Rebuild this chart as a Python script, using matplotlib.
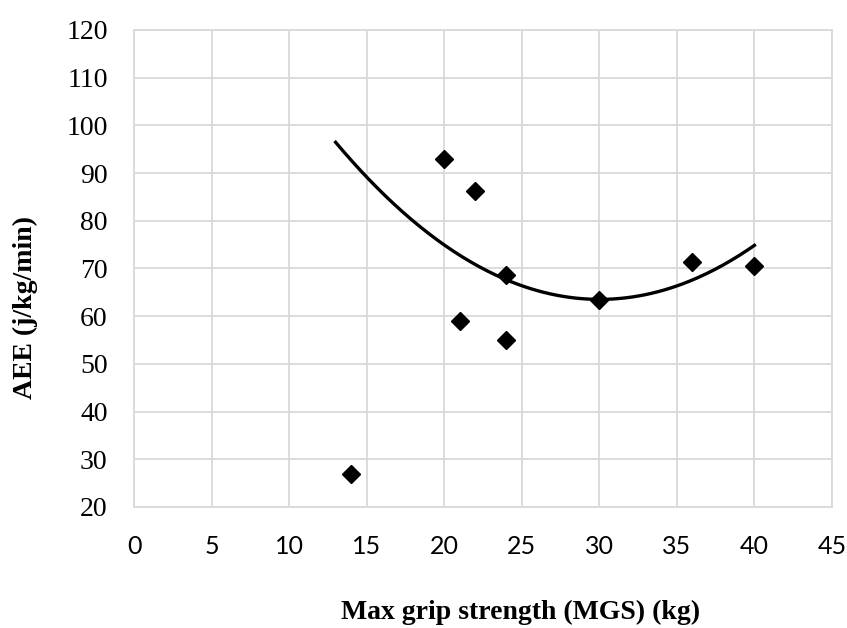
import matplotlib
matplotlib.use("Agg")
import matplotlib.pyplot as plt
import numpy as np

# grip strength (kg) vs AEE (j/kg/min)
mgs = [14, 20, 21, 22, 24, 24, 30, 36, 40]
aee = [27.0, 93.0, 58.9, 86.2, 68.6, 55.1, 63.5, 71.4, 70.6]

trend_x = [13, 15, 20, 30, 35, 40]
trend_y = [96.5, 89.6, 74.2, 63.2, 67.6, 74.2]

x_ticks = list(range(0, 50, 5))
y_ticks = list(range(20, 130, 10))

GRID = "#d9d9d9"
SERIF = "Liberation Serif"

fig = plt.figure(figsize=(8.47, 6.28), dpi=100)
ax = fig.add_axes([134 / 847, 1 - 507 / 628, (832 - 134) / 847, (507 - 30) / 628])

# 2nd order trendline
coef = np.polyfit(trend_x, trend_y, 2)
xs = np.linspace(min(trend_x), max(trend_x), 200)
ax.plot(xs, np.polyval(coef, xs), color="black", lw=2.4, zorder=3)

ax.plot(mgs, aee, "D", color="black", markersize=9, zorder=4)

ax.set_xlim(0, 45)
ax.set_ylim(20, 120)
ax.set_xticks(x_ticks)
ax.set_yticks(y_ticks)
ax.grid(True, color=GRID, lw=1.3)
ax.set_axisbelow(True)
for s in ax.spines.values():
    s.set_color(GRID)
    s.set_linewidth(1.3)
ax.tick_params(length=0)
ax.tick_params(axis="x", pad=20)
ax.tick_params(axis="y", pad=19)

for lab in ax.get_xticklabels():
    lab.set_fontfamily("Lato")
    lab.set_fontsize(18)
for lab in ax.get_yticklabels():
    lab.set_fontfamily(SERIF)
    lab.set_fontsize(20)

fig.text(521 / 847, 1 - 612 / 628, "Max grip strength (MGS) (kg)", fontfamily=SERIF,
         fontweight="bold", fontsize=20, ha="center", va="center")
fig.text(25 / 847, 1 - 307 / 628, "AEE (j/kg/min)", fontfamily=SERIF,
         fontweight="bold", fontsize=20, ha="center", va="center", rotation=90)

fig.savefig("out.png", dpi=100)
